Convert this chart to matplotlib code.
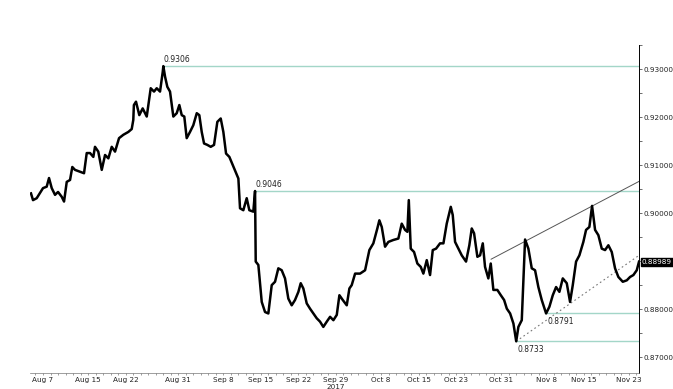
import numpy as np
import matplotlib
matplotlib.use("Agg")
import matplotlib.pyplot as plt
from matplotlib.ticker import MultipleLocator, FixedLocator

# EUR/GBP style series, x in trading days since 2017-08-03
start = "2017-08-03"
day = [0.40, 0.67, 1.16, 1.60, 2.00, 2.49, 2.80, 3.16, 3.60, 4.00, 4.49, 4.80,
       5.16, 5.60, 5.90, 6.26, 6.93, 7.46, 7.82, 8.26, 8.70, 8.92, 9.36, 9.82,
       10.26, 10.70, 11.15, 11.59, 12.12, 12.69, 13.36, 13.81, 14.02, 14.10,
       14.38, 14.82, 15.27, 15.81, 16.34, 16.78, 17.14, 17.58, 17.94, 18.02,
       18.25, 18.55, 18.91, 19.35, 19.80, 20.15, 20.47, 20.81, 21.13, 21.57,
       22.01, 22.47, 22.81, 23.13, 23.44, 23.88, 24.33, 24.77, 25.21, 25.66,
       26.01, 26.37, 26.81, 27.26, 27.70, 28.01, 28.23, 28.67, 29.12, 29.47,
       30.00, 30.23, 30.32, 30.67, 31.12, 31.56, 32.00, 32.45, 32.89, 33.33,
       33.78, 34.22, 34.66, 35.11, 35.55, 36.00, 36.31, 36.66, 37.11, 37.55,
       37.99, 38.44, 38.88, 39.32, 39.78, 40.22, 40.66, 41.11, 41.46, 41.91,
       42.44, 42.79, 43.10, 43.55, 44.21, 44.88, 45.45, 45.98, 46.51, 46.78,
       47.10, 47.54, 47.98, 48.64, 49.31, 49.76, 50.20, 50.51, 50.70, 50.96,
       51.40, 51.84, 52.29, 52.64, 53.09, 53.53, 53.89, 54.33, 54.86, 55.31,
       55.75, 56.29, 56.55, 56.86, 57.30, 57.75, 58.32, 58.76, 59.08, 59.39,
       59.83, 60.19, 60.55, 60.85, 61.29, 61.61, 61.96, 62.49, 62.95, 63.39,
       63.75, 64.19, 64.63, 65.00, 65.29, 65.74, 65.96, 66.18, 66.62, 67.07,
       67.51, 67.95, 68.40, 68.98, 69.42, 69.87, 70.31, 70.75, 71.20, 71.73,
       72.17, 72.53, 72.97, 73.41, 73.94, 74.30, 74.74, 75.10, 75.50, 75.94,
       76.39, 76.83, 77.27, 77.72, 78.16, 78.60, 79.19, 79.72, 80.16, 80.60,
       81.05, 81.35]
rate = [0.9041, 0.9027, 0.9031, 0.9042, 0.9052, 0.9055, 0.9073, 0.9052, 0.9038, 0.9044, 0.9034, 0.9024,
        0.9065, 0.9069, 0.9096, 0.9090, 0.9086, 0.9083, 0.9125, 0.9125, 0.9117, 0.9138, 0.9128, 0.9090,
        0.9121, 0.9114, 0.9138, 0.9128, 0.9156, 0.9163, 0.9169, 0.9175, 0.9194, 0.9225,
        0.9232, 0.9204, 0.9218, 0.9201, 0.9260, 0.9253, 0.9260, 0.9253, 0.9294, 0.9306,
        0.9284, 0.9263, 0.9253, 0.9201, 0.9208, 0.9225, 0.9204, 0.9201, 0.9156, 0.9169,
        0.9183, 0.9208, 0.9204, 0.9169, 0.9145, 0.9142, 0.9138, 0.9142, 0.9190, 0.9197,
        0.9169, 0.9124, 0.9117, 0.9100, 0.9083, 0.9072, 0.9010, 0.9006, 0.9031, 0.9006,
        0.9003, 0.9046, 0.8899, 0.8892, 0.8815, 0.8794, 0.8791, 0.8850, 0.8857, 0.8885,
        0.8881, 0.8864, 0.8822, 0.8808, 0.8819, 0.8836, 0.8854, 0.8843, 0.8812, 0.8801,
        0.8791, 0.8781, 0.8774, 0.8763, 0.8774, 0.8784, 0.8777, 0.8788, 0.8829, 0.8819,
        0.8808, 0.8843, 0.8850, 0.8874, 0.8874, 0.8881, 0.8923, 0.8937, 0.8968, 0.8985,
        0.8971, 0.8930, 0.8940, 0.8944, 0.8947, 0.8978, 0.8965, 0.8961, 0.9027, 0.8926,
        0.8919, 0.8895, 0.8888, 0.8874, 0.8902, 0.8871, 0.8923, 0.8926, 0.8937, 0.8937,
        0.8978, 0.9013, 0.8996, 0.8940, 0.8926, 0.8912, 0.8899, 0.8933, 0.8968, 0.8958,
        0.8909, 0.8912, 0.8937, 0.8888, 0.8864, 0.8895, 0.8840, 0.8840, 0.8829, 0.8819,
        0.8801, 0.8791, 0.8770, 0.8733, 0.8763, 0.8777, 0.8860, 0.8945, 0.8926, 0.8885,
        0.8881, 0.8846, 0.8819, 0.8791, 0.8805, 0.8829, 0.8846, 0.8836, 0.8864, 0.8854,
        0.8815, 0.8850, 0.8899, 0.8912, 0.8940, 0.8965, 0.8971, 0.9015, 0.8965, 0.8954,
        0.8926, 0.8923, 0.8933, 0.8919, 0.8885, 0.8867, 0.8857, 0.8860, 0.8867, 0.8871,
        0.8881, 0.88989]

# support / resistance levels: (day of extreme, level, label below?)
levels = [(18.02, 0.9306, False), (30.23, 0.9046, False),
          (69.00, 0.8791, True), (65.00, 0.8733, True)]
upper_trend = ([61.66, 81.35], [0.8904, 0.9066])
lower_trend = ([65.00, 81.35], [0.8733, 0.8912])
last_price = 0.88989

tick_dates = ["2017-08-07", "2017-08-15", "2017-08-22", "2017-08-31", "2017-09-08",
              "2017-09-15", "2017-09-22", "2017-09-29", "2017-10-08", "2017-10-15",
              "2017-10-23", "2017-10-31", "2017-11-08", "2017-11-15", "2017-11-23"]
tick_labels = ["Aug 7", "Aug 15", "Aug 22", "Aug 31", "Sep 8", "Sep 15", "Sep 22",
               "Sep 29\n2017", "Oct 8", "Oct 15", "Oct 23", "Oct 31", "Nov 8",
               "Nov 15", "Nov 23"]
y_ticks = [0.87, 0.88, 0.89, 0.90, 0.91, 0.92, 0.93]

fig = plt.figure(figsize=(6.73, 3.89), dpi=100)
ax = fig.add_axes([0.0446, 0.0411, 0.9049, 0.8432])

xmax = 81.35
lvl_col = "#a3d6c8"
for d, v, below in levels:
    ax.hlines(v, d, xmax, color=lvl_col, lw=1.0, zorder=1)
    if below:
        ax.annotate("%.4f" % v, (d, v), xytext=(1, -2.5), textcoords="offset points",
                    fontsize=5.5, va="top", ha="left", color="#222222")
    else:
        ax.annotate("%.4f" % v, (d, v), xytext=(0, 1.5), textcoords="offset points",
                    fontsize=5.5, va="bottom", ha="left", color="#222222")

ax.plot(*upper_trend, color="#555555", lw=0.7, zorder=2)
ax.plot(*lower_trend, color="#777777", lw=0.8, ls=(0, (1.5, 2.5)), zorder=2)

ax.plot(day, rate, color="black", lw=1.8, solid_joinstyle="round", zorder=3)

ax.set_xlim(0.27, xmax)
ax.set_ylim(0.8667, 0.935)

# x axis: trading-day positions
xpos = [np.busday_count(start, d) for d in tick_dates]
ax.xaxis.set_major_locator(FixedLocator(xpos))
ax.set_xticklabels(tick_labels)
ax.xaxis.set_minor_locator(MultipleLocator(1))
ax.tick_params(axis="x", which="both", length=1.5, width=0.5, color="#777777",
               labelsize=5.2, pad=1.5, labelcolor="#222222")

# y axis on the right
ax.yaxis.tick_right()
ax.set_yticks(y_ticks)
ax.set_yticklabels(["" if abs(t - 0.89) < 1e-9 else "%.5f" % t for t in y_ticks])
ax.yaxis.set_minor_locator(MultipleLocator(0.005))
ax.tick_params(axis="y", which="both", length=2, width=0.5, color="#333333",
               labelsize=5.2, pad=1, labelcolor="#222222")

for s in ["top", "left"]:
    ax.spines[s].set_visible(False)
ax.spines["right"].set_linewidth(0.7)
ax.spines["bottom"].set_linewidth(0.5)
ax.spines["bottom"].set_color("#777777")

ax.annotate("%.5f" % last_price, (1.0, last_price), xycoords=("axes fraction", "data"),
            xytext=(2, 0), textcoords="offset points", fontsize=5.2, color="white",
            va="center", ha="left",
            bbox=dict(boxstyle="square,pad=0.15", fc="black", ec="black"))

fig.savefig("out.png", dpi=100)
